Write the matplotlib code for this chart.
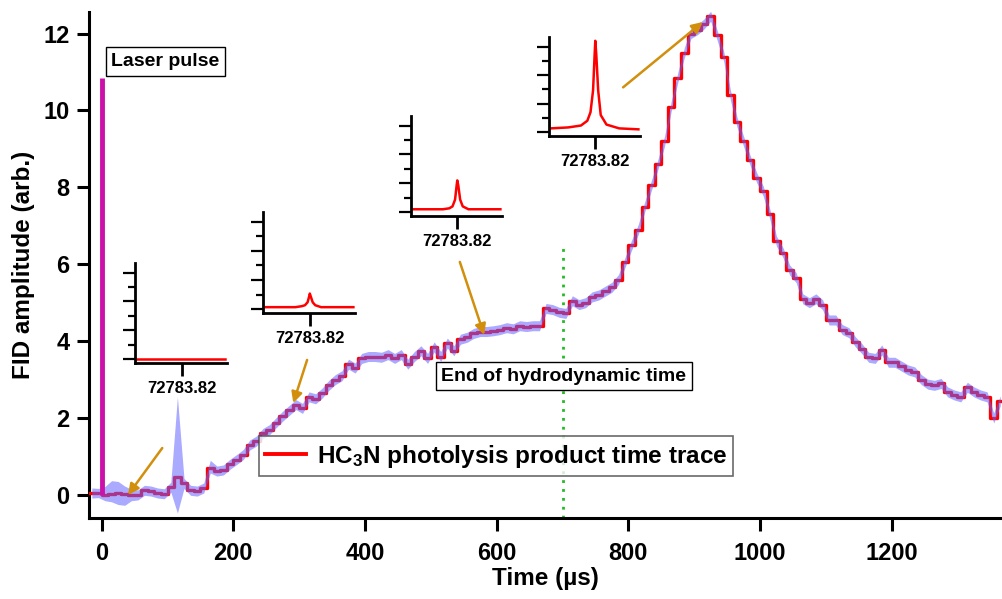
import matplotlib
matplotlib.use("Agg")
import matplotlib.pyplot as plt
import numpy as np

plt.rcParams['font.family'] = ['Liberation Sans', 'DejaVu Sans']
plt.rcParams['font.weight'] = 'bold'
plt.rcParams['mathtext.fontset'] = 'custom'
plt.rcParams['mathtext.rm'] = 'Liberation Sans:bold'
plt.rcParams['mathtext.bf'] = 'Liberation Sans:bold'
plt.rcParams['mathtext.default'] = 'bf'

# time trace, one value per 10 us bin starting at -20 us
trace_start = -20
trace_bin = 10
trace_vals = [
    0.05, 0.05, 0.0, 0.02, 0.05, 0.03, 0.0, 0.0, 0.12, 0.1,
    0.05, 0.03, 0.2, 0.47, 0.3, 0.12, 0.1, 0.18, 0.7, 0.62,
    0.65, 0.8, 0.92, 1.05, 1.3, 1.4, 1.6, 1.7, 1.88, 2.05,
    2.2, 2.35, 2.25, 2.55, 2.5, 2.65, 2.85, 3.0, 3.1, 3.4,
    3.3, 3.55, 3.6, 3.6, 3.58, 3.65, 3.55, 3.65, 3.4, 3.6,
    3.75, 3.55, 3.85, 3.6, 3.95, 3.75, 4.05, 4.1, 4.2, 4.25,
    4.25, 4.27, 4.3, 4.35, 4.32, 4.4, 4.38, 4.4, 4.4, 4.85,
    4.82, 4.75, 4.72, 5.05, 4.95, 5.0, 5.15, 5.2, 5.3, 5.4,
    5.6, 6.05, 6.5, 6.9, 7.5, 8.05, 8.6, 9.2, 10.1, 10.85,
    11.5, 12.0, 12.1, 12.25, 12.45, 11.95, 11.4, 10.4, 9.7, 9.2,
    8.7, 8.25, 7.9, 7.3, 6.6, 6.3, 5.85, 5.65, 5.1, 5.0,
    5.1, 4.95, 4.55, 4.55, 4.3, 4.22, 3.98, 3.8, 3.58, 3.55,
    3.77, 3.45, 3.45, 3.35, 3.25, 3.2, 3.0, 2.88, 2.85, 2.9,
    2.68, 2.6, 2.55, 2.8, 2.68, 2.6, 2.55, 2.0, 2.45,
]
band_width = 0.13
# wider uncertainty band at a few bins: time -> (up, down)
band_extra = {
    -10: (0.12, 0.12), 0: (0.22, 0.15), 10: (0.35, 0.2), 20: (0.3, 0.3),
    30: (0.2, 0.3), 40: (0.15, 0.15), 110: (2.08, 0.94), 160: (0.2, 0.13),
}

laser_t = 0
laser_height = 10.85
hydro_t = 700
hydro_top = 6.5

# inset spectra (offset from 72783.82 MHz)
spec_x = [-1.4, -0.85, -0.45, -0.25, -0.15, -0.07, -0.02, 0, 0.03, 0.09, 0.17, 0.35, 0.75, 1.35]
spec_1 = [0.0, 0.0, 0.0, 0.0, 0.0, 0.0, 0.0, 0.0, 0.0, 0.0, 0.0, 0.0, 0.0, 0.0]
spec_2 = [0.02, 0.02, 0.02, 0.03, 0.04, 0.07, 0.13, 0.16, 0.13, 0.07, 0.04, 0.02, 0.02, 0.02]
spec_3 = [0.03, 0.03, 0.03, 0.04, 0.06, 0.13, 0.28, 0.33, 0.28, 0.13, 0.06, 0.03, 0.03, 0.03]
spec_4 = [0.04, 0.05, 0.07, 0.12, 0.21, 0.44, 0.82, 0.96, 0.82, 0.44, 0.18, 0.08, 0.04, 0.03]

# arrows: (tail t, tail v, head t, head v)
arrows = [(92, 1.22, 40, 0.0), (312, 3.51, 291, 2.39),
          (544, 6.06, 581, 4.16), (792, 10.6, 913, 12.3)]

W, H = 1002, 599
fig = plt.figure(figsize=(W / 100, H / 100), dpi=100)


def px_axes(x0, y0, x1, y1):
    return fig.add_axes([x0 / W, 1 - y1 / H, (x1 - x0) / W, (y1 - y0) / H])


ax = px_axes(89, 12, 1002, 518)

vals = np.array(trace_vals)
t = trace_start + trace_bin * np.arange(len(vals))
up = np.full(len(vals), band_width)
dn = np.full(len(vals), band_width)
for k, (u, d) in band_extra.items():
    i = (k - trace_start) // trace_bin
    up[i], dn[i] = u, d

ax.step(np.append(t, t[-1] + trace_bin), np.append(vals, vals[-1]), where='post',
        color='red', lw=2.4, zorder=3, label='HC$_3$N photolysis product time trace')
tc = t + trace_bin / 2
ax.fill_between(tc, vals - dn, vals + up, color='#6464ff', alpha=0.55, lw=0, zorder=4)

ax.vlines(laser_t, 0, laser_height, color='#cc11aa', lw=3.5, zorder=5)
ax.vlines(hydro_t, -0.6, hydro_top, color='#22bb22', lw=2, linestyles=(0, (1, 2.2)), zorder=2)

for x0, y0, x1, y1 in arrows:
    ax.annotate('', xy=(x1, y1), xytext=(x0, y0),
                arrowprops=dict(arrowstyle='-|>', color='#d18f0c', lw=1.8,
                                mutation_scale=16, shrinkA=0, shrinkB=0), zorder=6)

ax.set_xlim(-19.3, 1367.6)
ax.set_ylim(-0.6, 12.56)
ax.set_xticks(np.arange(0, 1201, 200))
ax.set_yticks(np.arange(0, 13, 2))
for s in ['top', 'right']:
    ax.spines[s].set_visible(False)
for s in ['left', 'bottom']:
    ax.spines[s].set_linewidth(2.2)
ax.tick_params(axis='both', length=9, width=2.2, labelsize=17)
ax.tick_params(axis='x', pad=8)
ax.tick_params(axis='y', pad=5)
ax.set_xlabel('Time (µs)', fontsize=17.5, fontweight='bold', labelpad=2)
ax.set_ylabel('FID amplitude (arb.)', fontsize=17.5, fontweight='bold', labelpad=6)

box = dict(boxstyle='square,pad=0.3', fc='white', ec='black', lw=1)
ax.text(96.9, 11.27, 'Laser pulse', fontsize=14, fontweight='bold', ha='center', va='center', bbox=box)
ax.text(702, 3.09, 'End of hydrodynamic time', fontsize=14, fontweight='bold', ha='center', va='center', bbox=box)

leg = ax.legend(loc='center', bbox_to_anchor=(0.4458, 0.1225), fontsize=17.5, frameon=True,
                fancybox=False, handlelength=1.7, handletextpad=0.45, borderpad=0.25)
leg.get_frame().set_edgecolor('#444444')
leg.get_frame().set_linewidth(1.2)
for h in leg.get_lines():
    h.set_linewidth(2.8)

insets = [((135, 263, 227, 363), spec_1), ((263, 212, 355, 313), spec_2),
          ((411, 116, 502, 216), spec_3), ((549, 37, 640, 136), spec_4)]
for (x0, y0, x1, y1), spec in insets:
    ia = px_axes(x0, y0, x1, y1)
    ia.patch.set_alpha(0)
    ia.plot(spec_x, spec, color='red', lw=1.8)
    ia.set_xlim(-1.45, 1.4)
    ia.set_ylim(-0.04, 1.0)
    ia.set_xticks([0])
    ia.set_xticklabels(['72783.82'])
    ia.set_yticks([0, 0.3, 0.6, 0.9])
    ia.set_yticks([0.15, 0.45, 0.75], minor=True)
    ia.set_yticklabels([])
    for s in ['top', 'right']:
        ia.spines[s].set_visible(False)
    for s in ['left', 'bottom']:
        ia.spines[s].set_linewidth(2)
    ia.tick_params(axis='x', length=9, width=2, labelsize=12, pad=4)
    ia.tick_params(axis='y', which='major', length=9, width=1.6)
    ia.tick_params(axis='y', which='minor', length=5, width=1.6)

fig.savefig('out.png', dpi=100)
